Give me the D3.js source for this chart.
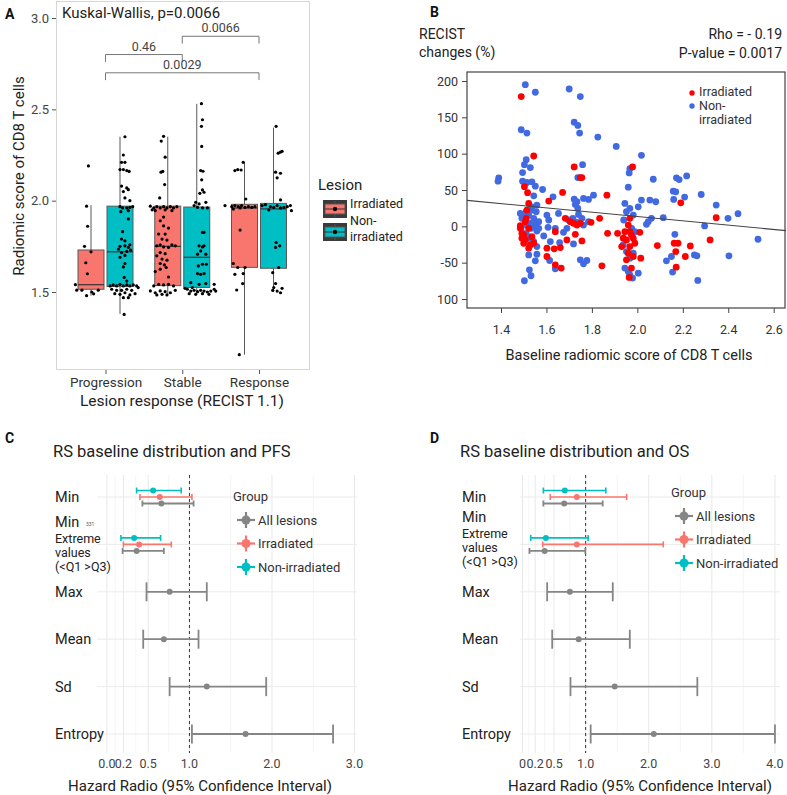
<!DOCTYPE html>
<html><head><meta charset="utf-8">
<script src="https://cdn.jsdelivr.net/npm/d3@7"></script>
<style>body{margin:0;background:#fff}svg text{font-family:Roboto,"DejaVu Sans",sans-serif}</style>
</head><body><svg id="c" width="787" height="795"></svg>
<script>
// ---------------- DATA ----------------
// Panel A
const responseCats = ["Progression","Stable","Response"];
const lesionGroups = ["Irradiated","Non-irradiated"];
const boxCat   = ["Progression","Progression","Stable","Stable","Response","Response"];
const boxGroup = ["Irradiated","Non-irradiated","Irradiated","Non-irradiated","Irradiated","Non-irradiated"];
// [lower whisker, Q1, median, Q3, upper whisker]
const boxStats = [
  [1.48,1.515,1.54,1.73,1.975],
  [1.38,1.53,1.72,1.97,2.35],
  [1.485,1.535,1.75,1.97,2.35],
  [1.487,1.525,1.69,1.965,2.53],
  [1.157,1.635,1.96,1.98,2.21],
  [1.50,1.63,1.955,1.985,2.40]
];
// jittered points: [score, jitter (fraction of box width)]
const ptsProgIrr = [[2.19,-0.1],[1.97,-0.17],[1.86,-0.13],[1.75,-0.25],[1.72,0],[1.66,-0.2],[1.60,-0.14],[1.54,-0.6],[1.51,-0.55],[1.51,-0.35],[1.48,-0.17],[1.50,0.03],[1.49,0.1],[1.51,0.28]];
const ptsProgNon = [[2.35,0.19],[2.25,0.13],[2.21,0.06],[2.21,0.19],[2.17,0],[2.17,0.13],[2.165,0.26],[2.16,0.35],[2.08,0.06],[2.07,0.26],[2.06,0.32],[2.05,0.13],[2.015,0.19],[2.0,0.38],[1.967,0],[1.96,0.1],[1.96,0.26],[1.963,0.38],[1.967,0.49],[1.94,0.03],[1.945,0.32],[1.90,0.32],[1.83,0.1],[1.79,0.06],[1.78,0.19],[1.75,0],[1.753,0.19],[1.744,0.32],[1.758,0.38],[1.734,-0.06],[1.716,0.06],[1.722,0.26],[1.729,0.41],[1.69,0],[1.70,0.19],[1.656,0.19],[1.637,0.13],[1.58,0.16],[1.56,0.26],[1.533,-0.38],[1.539,-0.26],[1.533,-0.13],[1.542,0],[1.533,0.13],[1.539,0.26],[1.533,0.38],[1.539,0.51],[1.533,0.64],[1.515,-0.32],[1.509,-0.13],[1.509,0.06],[1.515,0.26],[1.509,0.45],[1.524,0.7],[1.491,-0.2],[1.487,0],[1.496,0.19],[1.484,0.38],[1.491,0.58],[1.469,0.13],[1.469,0.32],[1.377,0.16]];
const ptsStableIrr = [[2.352,-0.16],[2.326,-0.25],[2.238,-0.1],[2.16,-0.19],[2.156,-0.26],[2.088,-0.12],[2.015,-0.31],[1.97,-0.67],[1.96,-0.54],[1.95,-0.6],[1.967,-0.42],[1.96,-0.29],[1.967,-0.16],[1.96,-0.03],[1.967,0.1],[1.96,0.22],[1.967,0.35],[1.945,-0.48],[1.95,-0.1],[1.945,0.16],[1.91,-0.16],[1.89,-0.29],[1.862,-0.16],[1.85,0.03],[1.817,-0.35],[1.817,-0.1],[1.79,-0.22],[1.784,-0.03],[1.753,-0.42],[1.758,-0.29],[1.747,-0.16],[1.744,0.03],[1.758,0.16],[1.753,0.29],[1.716,-0.29],[1.698,-0.42],[1.71,-0.1],[1.68,-0.22],[1.674,-0.03],[1.656,-0.29],[1.648,-0.13],[1.634,-0.06],[1.625,-0.29],[1.612,-0.48],[1.582,0.03],[1.533,-0.54],[1.542,-0.35],[1.539,-0.16],[1.542,0.03],[1.533,0.22],[1.506,-0.67],[1.496,-0.48],[1.506,-0.29],[1.502,-0.1],[1.496,0.1],[1.509,0.29],[1.484,-0.42],[1.487,-0.22],[1.484,-0.03]];
const ptsStableNon = [[2.531,0.18],[2.443,0.22],[2.407,0.18],[2.297,0.19],[2.165,0.15],[2.161,0.24],[2.114,0.19],[2.059,0.22],[2.046,0.28],[2.04,0.12],[1.991,-0.04],[1.982,0.09],[1.991,0.35],[1.963,0.03],[1.96,0.22],[1.96,0.41],[1.973,-0.1],[1.826,0.22],[1.826,0.28],[1.753,0.09],[1.747,0.22],[1.753,0.28],[1.725,0.15],[1.707,0.03],[1.707,0.35],[1.652,0.22],[1.643,0.06],[1.652,0.37],[1.597,0.15],[1.601,0.28],[1.601,0.03],[1.551,-0.23],[1.542,0.09],[1.546,0.35],[1.542,0.67],[1.515,-0.36],[1.505,-0.23],[1.509,-0.1],[1.502,0.03],[1.509,0.15],[1.505,0.28],[1.5,0.41],[1.505,0.54],[1.515,0.67],[1.491,-0.29],[1.487,-0.04],[1.491,0.22],[1.487,0.47],[1.505,0.73],[1.524,-0.17],[1.52,-0.45]];
const ptsRespIrr = [[2.165,-0.37],[2.17,-0.26],[2.168,-0.13],[2.21,-0.05],[2.009,0.05],[1.973,-0.75],[1.967,-0.49],[1.973,-0.37],[1.967,-0.24],[1.973,-0.11],[1.963,0.02],[1.967,0.15],[1.963,0.28],[1.967,0.4],[1.954,-0.43],[1.96,-0.17],[1.839,-0.17],[1.656,-0.43],[1.634,-0.26],[1.634,0.02],[1.597,-0.37],[1.601,-0.05],[1.546,-0.07],[1.511,-0.3],[1.157,-0.2]];
const ptsRespNon = [[2.407,0.1],[2.26,0.18],[2.266,0.27],[2.27,0.33],[2.156,0.08],[2.15,0.27],[2.125,0.14],[2.004,0.27],[1.973,-0.44],[1.978,-0.31],[1.967,-0.12],[1.963,0.01],[1.973,0.14],[1.96,0.27],[1.963,0.4],[1.967,0.53],[1.973,0.65],[1.945,0.69],[1.949,-0.18],[1.771,0.1],[1.744,0.08],[1.753,0.24],[1.634,0.2],[1.606,-0.03],[1.546,0.08],[1.524,0.01],[1.52,0.33],[1.505,0.14],[1.509,-0.03],[1.496,0.27]];
const ptsAll = [ptsProgIrr, ptsProgNon, ptsStableIrr, ptsStableNon, ptsRespIrr, ptsRespNon];
const yTicksA = [1.5, 2.0, 2.5, 3.0];
// brackets: [from, to, level, label]
const bracketFrom  = ["Progression","Stable","Progression"];
const bracketTo    = ["Stable","Response","Response"];
const bracketLevel = [2.80, 2.90, 2.70];
const bracketLabel = ["0.46","0.0066","0.0029"];

// Panel B: [baseline score, RECIST change %]
const bIrradiated = [[1.489,178.5],[1.544,96.8],[1.722,81.7],[1.749,67.1],[1.756,67.1],[1.671,46.6],[1.610,34.7],[1.866,42.9],[1.522,31.5],[1.514,22.4],[1.511,11.0],[1.485,0.9],[1.500,-11.9],[1.492,-16.4],[1.507,-18.7],[1.536,-14.2],[1.544,-23.3],[1.522,-30.1],[1.507,6.4],[1.639,-7.3],[1.683,11.0],[1.705,6.4],[1.719,4.1],[1.734,1.8],[1.749,4.1],[1.796,5.5],[1.834,11.0],[1.727,-11.0],[1.690,-18.7],[1.756,-20.1],[1.602,-30.1],[1.634,-31.0],[1.661,-29.2],[1.602,-41.5],[1.639,-53.0],[1.665,-57.5],[1.844,-54.3],[1.869,-9.6],[1.913,-9.6],[1.492,-9.6],[1.522,-2.7],[1.500,-23.3],[1.529,-25.6],[1.485,-2.7],[1.503,54.6],[1.517,46.3],[1.979,81.7],[2.191,32.4],[2.347,11.9],[1.967,11.0],[1.960,1.8],[1.967,-7.3],[1.974,-11.9],[1.952,-18.7],[1.982,-16.4],[1.989,-23.3],[1.967,-27.9],[2.011,-8.2],[1.960,-37.0],[1.982,-41.5],[1.952,-46.1],[2.015,-43.8],[1.974,-57.5],[1.964,-70.3],[2.088,-26.5],[2.162,-23.3],[2.179,-23.3],[2.169,-34.7],[2.233,-26.9],[2.211,-41.5],[2.171,-56.2],[2.320,-18.7],[1.938,-16.4],[1.931,-27.9],[1.945,-7.3]];
const bNonIrradiated = [[1.507,195.0],[1.551,184.5],[1.700,189.0],[1.749,178.5],[1.489,132.9],[1.514,128.3],[1.722,143.4],[1.738,138.8],[1.746,128.3],[1.826,122.8],[1.907,110.0],[1.511,91.8],[1.503,84.9],[1.529,80.8],[1.495,74.0],[1.390,66.7],[1.387,62.1],[1.495,62.1],[1.514,60.3],[1.536,61.2],[1.551,55.2],[1.583,50.7],[1.759,84.9],[1.738,67.1],[1.544,42.0],[1.629,40.6],[1.722,37.4],[1.734,33.8],[1.763,38.4],[1.785,37.0],[1.807,42.9],[1.727,30.1],[1.738,24.7],[1.500,13.2],[1.511,20.1],[1.536,22.4],[1.555,20.1],[1.544,11.0],[1.566,6.4],[1.602,15.5],[1.610,8.7],[1.653,17.8],[1.489,-1.8],[1.514,1.8],[1.533,-2.7],[1.558,-6.4],[1.607,-1.4],[1.639,-2.7],[1.697,8.7],[1.716,11.0],[1.741,16.4],[1.756,11.0],[1.763,1.8],[1.785,6.4],[1.734,5.5],[1.675,-8.2],[1.690,-2.7],[1.500,-14.2],[1.522,-16.4],[1.544,-21.0],[1.558,-27.9],[1.588,-13.2],[1.617,-21.0],[1.658,-22.4],[1.719,-24.2],[1.522,-39.3],[1.558,-38.4],[1.551,-47.5],[1.614,-47.0],[1.639,-58.4],[1.749,-46.1],[1.763,-51.6],[1.778,-47.0],[1.525,-59.8],[1.532,-68.0],[1.503,-74.9],[1.492,11.0],[1.522,15.5],[1.529,4.1],[1.551,0.9],[1.511,-9.6],[1.544,4.1],[1.566,-2.7],[1.485,17.8],[1.536,26.9],[1.558,29.2],[2.018,97.7],[1.967,79.4],[1.964,73.5],[2.070,64.8],[2.172,66.7],[2.184,64.4],[2.217,69.4],[1.960,53.9],[2.158,48.4],[2.169,47.5],[2.160,37.0],[2.208,40.2],[2.281,43.8],[2.347,29.2],[2.018,36.1],[2.055,36.1],[2.081,33.8],[1.945,31.5],[1.967,24.7],[2.004,26.9],[2.062,11.0],[2.048,6.4],[2.040,2.7],[2.114,11.9],[2.296,0.5],[2.399,11.0],[2.443,17.4],[2.531,-17.8],[2.165,-11.0],[2.150,-41.5],[2.128,-47.5],[2.251,-39.3],[2.262,-40.6],[2.403,-40.6],[2.155,-63.0],[2.266,-74.4],[2.004,-64.4],[1.938,-25.6],[1.952,-34.7],[1.967,-43.8],[1.945,-57.5],[1.960,-62.1],[1.982,-37.0],[1.952,20.1],[1.982,15.5],[1.940,8.7],[1.975,-2.7],[1.989,-7.3],[1.967,-66.7],[1.979,-71.2]];
const regCoef = [72.9, -29.7];   // intercept, slope of fitted line
const xTicksB = [1.4,1.6,1.8,2.0,2.2,2.4,2.6];
const yTicksB = [200,150,100,50,0,-50,-100];
const yTickLabelsB = ["200","150","100","50","0","-50","100"];

// Panels C & D : [HR, lower, upper] per row
const forestRows = ["Min","Min Extreme values","Max","Mean","Sd","Entropy"];
const forestGroups = ["All lesions","Irradiated","Non-irradiated"];
const pfsAll = [[0.66,0.43,1.05],[0.36,0.19,0.69],[0.76,0.48,1.21],[0.69,0.44,1.11],[1.21,0.76,1.93],[1.68,1.03,2.74]];
const pfsIrr = [[0.64,0.40,1.03],[0.39,0.20,0.78]];
const pfsNon = [[0.56,0.36,0.90],[0.33,0.17,0.65]];
const osAll = [[0.66,0.33,1.27],[0.35,0.11,0.995],[0.75,0.39,1.43],[0.89,0.47,1.70],[1.46,0.76,2.77],[2.08,1.08,4.0]];
const osIrr = [[0.86,0.44,1.65],[0.86,0.32,2.23]];
const osNon = [[0.67,0.33,1.32],[0.37,0.13,1.04]];
const pfsTicks = [0,0.2,0.5,1,2,3];
const pfsTickLabels = ["0.0","0.2","0.5","1.0","2.0","3.0"];
const osTicks = [0,0.2,0.5,1,2,3,4];
const osTickLabels = ["0","0.2","0.5","1.0","2.0","3.0","4.0"];

// ---------------- DRAW ----------------
const svg = d3.select("#c");
const boxFill = {"Irradiated":"#F8766D","Non-irradiated":"#00BFC4"};
const groupCol = {"All lesions":"#858585","Irradiated":"#F8766D","Non-irradiated":"#00BFC4"};
const txt = (g,x,y,s,size,opt={}) => g.append("text").attr("x",x).attr("y",y).text(s)
   .attr("font-size",size).attr("fill",opt.fill||"#222").attr("text-anchor",opt.anchor||"start")
   .attr("font-weight",opt.weight||"normal");

// ===== Panel A =====
const gA = svg.append("g");
const xA = d3.scalePoint().domain(responseCats).range([105.5, 259]);
const dodgeA = d3.scalePoint().domain(lesionGroups).range([-14.5, 14.5]);
const yA = d3.scaleLinear().domain([1.5, 3.0]).range([292, 18]);
const boxW = 26;
gA.append("rect").attr("x",56.5).attr("y",1.5).attr("width",253).attr("height",368).attr("fill","#fff").attr("stroke","#d6d6d6");
boxStats.forEach((s,i)=>{
  const cx = xA(boxCat[i]) + dodgeA(boxGroup[i]);
  const g = gA.append("g");
  g.append("line").attr("x1",cx).attr("x2",cx).attr("y1",yA(s[0])).attr("y2",yA(s[4])).attr("stroke","#595959").attr("stroke-width",1);
  g.append("rect").attr("x",cx-boxW/2).attr("width",boxW).attr("y",yA(s[3])).attr("height",yA(s[1])-yA(s[3]))
    .attr("fill",boxFill[boxGroup[i]]).attr("stroke","#595959").attr("stroke-width",1);
  g.append("line").attr("x1",cx-boxW/2).attr("x2",cx+boxW/2).attr("y1",yA(s[2])).attr("y2",yA(s[2])).attr("stroke","#333").attr("stroke-width",1.2);
});
ptsAll.forEach((pts,i)=>{
  const cx = xA(boxCat[i]) + dodgeA(boxGroup[i]);
  gA.selectAll(null).data(pts).enter().append("circle")
    .attr("cx",d=>cx+d[1]*boxW).attr("cy",d=>yA(d[0])).attr("r",1.6).attr("fill","#000");
});
const axAy = gA.append("g").attr("transform","translate(56,0)")
  .call(d3.axisLeft(yA).tickValues(yTicksA).tickFormat(d3.format(".1f")).tickSize(4));
axAy.select(".domain").remove();
axAy.selectAll("line").attr("stroke","#555");
axAy.selectAll("text").attr("font-size",13).attr("fill","#444").attr("font-family","Roboto");
const axAx = gA.append("g").attr("transform","translate(0,370)").call(d3.axisBottom(xA).tickSize(4));
axAx.select(".domain").remove();
axAx.selectAll("line").attr("stroke","#555");
axAx.selectAll("text").attr("font-size",13.5).attr("fill","#333").attr("font-family","Roboto");
gA.append("text").attr("transform","translate(24,176) rotate(-90)").attr("text-anchor","middle")
  .attr("font-size",15).attr("fill","#222").text("Radiomic score of CD8 T cells");
txt(gA,182,406,"Lesion response (RECIST 1.1)",15.5,{anchor:"middle"});
txt(gA,62,18,"Kuskal-Wallis, p=0.0066",15);
bracketLabel.forEach((lab,i)=>{
  const x1 = xA(bracketFrom[i]), x2 = xA(bracketTo[i]), y = yA(bracketLevel[i]), yl = yA(bracketLevel[i]-0.04);
  gA.append("path").attr("d",`M${x1},${yl}V${y}H${x2}V${yl}`).attr("fill","none").attr("stroke","#777").attr("stroke-width",1);
  txt(gA,(x1+x2)/2,y-4,lab,12.5,{anchor:"middle",fill:"#444"});
});
txt(gA,5,19,"A",14,{weight:"bold",fill:"#111"});
// legend A
txt(gA,318,190,"Lesion",15);
lesionGroups.forEach((gname,i)=>{
  const ky = 200 + i*23;
  const k = gA.append("g").attr("transform",`translate(323,${ky})`);
  k.append("rect").attr("width",24).attr("height",18).attr("fill","#3a3a3a");
  k.append("line").attr("x1",12).attr("x2",12).attr("y1",1).attr("y2",17).attr("stroke","#555");
  k.append("rect").attr("x",2).attr("y",4).attr("width",20).attr("height",10).attr("fill",boxFill[gname]).attr("stroke","#555");
  k.append("line").attr("x1",2).attr("x2",22).attr("y1",9).attr("y2",9).attr("stroke","#333");
  k.append("circle").attr("cx",12).attr("cy",9).attr("r",2.2).attr("fill","#000");
});
txt(gA,350,208,"Irradiated",12.5);
txt(gA,350,225,"Non-",12.5);
txt(gA,350,241,"irradiated",12.5);

// ===== Panel B =====
const gB = svg.append("g");
const xB = d3.scaleLinear().domain([1.4,2.6]).range([501,773.7]);
const yB = d3.scaleLinear().domain([-100,200]).range([299,81]);
const bL=467,bR=786,bT=72,bBt=308;
gB.append("defs").append("clipPath").attr("id","clipB").append("rect").attr("x",bL).attr("y",bT).attr("width",bR-bL).attr("height",bBt-bT);
const pB = gB.append("g").attr("clip-path","url(#clipB)");
pB.selectAll(".nb").data(bNonIrradiated).enter().append("circle").attr("cx",d=>xB(d[0])).attr("cy",d=>yB(d[1])).attr("r",3.4).attr("fill","#4169E1");
pB.selectAll(".rb").data(bIrradiated).enter().append("circle").attr("cx",d=>xB(d[0])).attr("cy",d=>yB(d[1])).attr("r",3.4).attr("fill","#FF0000");
const xe = [xB.invert(bL), xB.invert(bR)];
pB.append("line").attr("x1",xB(xe[0])).attr("x2",xB(xe[1])).attr("y1",yB(regCoef[0]+regCoef[1]*xe[0])).attr("y2",yB(regCoef[0]+regCoef[1]*xe[1]))
  .attr("stroke","#444").attr("stroke-width",1.1);
gB.append("rect").attr("x",bL).attr("y",bT).attr("width",bR-bL-1).attr("height",bBt-bT).attr("fill","none").attr("stroke","#444").attr("stroke-width",1.2);
const axBy = gB.append("g").attr("transform",`translate(${bL},0)`)
  .call(d3.axisLeft(yB).tickValues(yTicksB).tickFormat((d,i)=>yTickLabelsB[i]).tickSize(5).tickPadding(4));
axBy.select(".domain").remove();
axBy.selectAll("line").attr("stroke","#444");
axBy.selectAll("text").attr("font-size",12.5).attr("fill","#333").attr("font-family","Roboto");
const axBx = gB.append("g").attr("transform",`translate(0,${bBt})`)
  .call(d3.axisBottom(xB).tickValues(xTicksB).tickFormat(d3.format(".1f")).tickSize(5).tickPadding(12));
axBx.select(".domain").remove();
axBx.selectAll("line").attr("stroke","#444");
axBx.selectAll("text").attr("font-size",12.5).attr("fill","#333").attr("font-family","Roboto");
txt(gB,629,360,"Baseline radiomic score of CD8 T cells",14.5,{anchor:"middle"});
txt(gB,419,39,"RECIST",14);
txt(gB,419,57,"changes (%)",14);
txt(gB,782,39,"Rho = - 0.19",14,{anchor:"end"});
txt(gB,782,58,"P-value = 0.0017",14,{anchor:"end"});
txt(gB,430,17,"B",14,{weight:"bold",fill:"#111"});
gB.append("circle").attr("cx",692).attr("cy",93).attr("r",2.7).attr("fill","#FF0000");
gB.append("circle").attr("cx",692).attr("cy",106).attr("r",2.7).attr("fill","#4169E1");
txt(gB,699,96,"Irradiated",12.5,{fill:"#333"});
txt(gB,699,110,"Non-",12.5,{fill:"#333"});
txt(gB,699,124,"irradiated",12.5,{fill:"#333"});

// ===== Panels C & D =====
function drawForest(cfg){
  const g = svg.append("g");
  const x = d3.scaleLinear().domain(cfg.domain).range(cfg.range);
  const y = d3.scalePoint().domain(forestRows).range([497, 734]);
  const sub = d3.scalePoint().domain(["Non-irradiated","Irradiated","All lesions"]).range([-6.5, 6.5]);
  const top=475, bot=753, L=cfg.range[0], R=cfg.range[1];
  const minors = d3.pairs(cfg.ticks).map(([a,b])=>(a+b)/2);
  g.selectAll(".mn").data(minors).enter().append("line").attr("x1",d=>x(d)).attr("x2",d=>x(d)).attr("y1",top).attr("y2",bot).attr("stroke","#f3f3f3").attr("stroke-width",0.8);
  g.selectAll(".mj").data(cfg.ticks).enter().append("line").attr("x1",d=>x(d)).attr("x2",d=>x(d)).attr("y1",top).attr("y2",bot).attr("stroke","#e8e8e8").attr("stroke-width",1);
  g.selectAll(".hr").data(forestRows).enter().append("line").attr("x1",L).attr("x2",R).attr("y1",d=>y(d)).attr("y2",d=>y(d)).attr("stroke","#ebebeb").attr("stroke-width",1);
  g.append("line").attr("x1",x(1)).attr("x2",x(1)).attr("y1",top).attr("y2",bot).attr("stroke","#333").attr("stroke-dasharray","3,3").attr("stroke-width",1);
  const series = [["All lesions",cfg.all],["Irradiated",cfg.irr],["Non-irradiated",cfg.non]];
  series.forEach(([gname,data])=>{
    data.forEach((d,i)=>{
      const dodge = i<2;
      const yy = y(forestRows[i]) + (dodge ? sub(gname) : 0);
      const cap = dodge ? 3 : 9.5;
      const col = groupCol[gname];
      const sw = gname==="All lesions" ? 1.8 : 1.6;
      g.append("line").attr("x1",x(d[1])).attr("x2",x(d[2])).attr("y1",yy).attr("y2",yy).attr("stroke",col).attr("stroke-width",sw);
      [d[1],d[2]].forEach(v=>g.append("line").attr("x1",x(v)).attr("x2",x(v)).attr("y1",yy-cap).attr("y2",yy+cap).attr("stroke",col).attr("stroke-width",sw));
      g.append("circle").attr("cx",x(d[0])).attr("cy",yy).attr("r",3).attr("fill",col);
    });
  });
  // x axis labels
  g.selectAll(".tl").data(cfg.ticks).enter().append("text").attr("x",d=>x(d)).attr("y",768).attr("text-anchor","middle")
    .attr("font-size",12.5).attr("fill","#444").text((d,i)=>cfg.tickLabels[i]);
  txt(g,(L+R)/2+cfg.titleShift,791,"Hazard Radio (95% Confidence Interval)",15,{anchor:"middle"});
  txt(g,cfg.labelX-2,457,cfg.title,16.5);
  txt(g,cfg.panelX,443,cfg.panel,14,{weight:"bold",fill:"#111"});
  // row labels
  const lx = cfg.labelX;
  [["Min",0],["Max",2],["Mean",3],["Sd",4],["Entropy",5]].forEach(([s,i])=>txt(g,lx,y(forestRows[i])+5,s,14.5));
  const r1 = y(forestRows[1]);
  txt(g,lx,r1+cfg.off[0],"Min",14.5);
  txt(g,lx,r1+cfg.off[1],"Extreme",12.5);
  txt(g,lx,r1+cfg.off[2],"values",12.5);
  txt(g,lx,r1+cfg.off[3],"(<Q1 >Q3)",12.5);
  // legend
  txt(g,cfg.legX-13,cfg.legY,"Group",13,{fill:"#333"});
  forestGroups.forEach((gname,i)=>{
    const ky = cfg.legY + 19 + i*23.5, col = groupCol[gname];
    const k = g.append("g").attr("transform",`translate(${cfg.legX},${ky})`);
    k.append("line").attr("x1",-9).attr("x2",9).attr("y1",0).attr("y2",0).attr("stroke",col).attr("stroke-width",2.2);
    k.append("line").attr("x1",0).attr("x2",0).attr("y1",-8).attr("y2",8).attr("stroke",col).attr("stroke-width",2.2);
    k.append("circle").attr("r",4.5).attr("fill",col);
    txt(g,cfg.legX+12,ky+4.5,gname,13,{fill:"#333"});
  });
  return g;
}
const gC = drawForest({domain:[-0.12,3.03],range:[97,357],ticks:pfsTicks,tickLabels:pfsTickLabels,all:pfsAll,irr:pfsIrr,non:pfsNon,
  title:"RS baseline distribution and PFS",panel:"C",panelX:5,labelX:55,off:[-17,-1,13,27],legX:246,legY:501,titleShift:-27});
txt(gC,86,526,"331",5,{fill:"#555"});
drawForest({domain:[-0.04,4.08],range:[520,780],ticks:osTicks,tickLabels:osTickLabels,all:osAll,irr:osIrr,non:osNon,
  title:"RS baseline distribution and OS",panel:"D",panelX:430,labelX:462,off:[-22,-6,8,22],legX:684,legY:497,titleShift:-10});
</script></body></html>
